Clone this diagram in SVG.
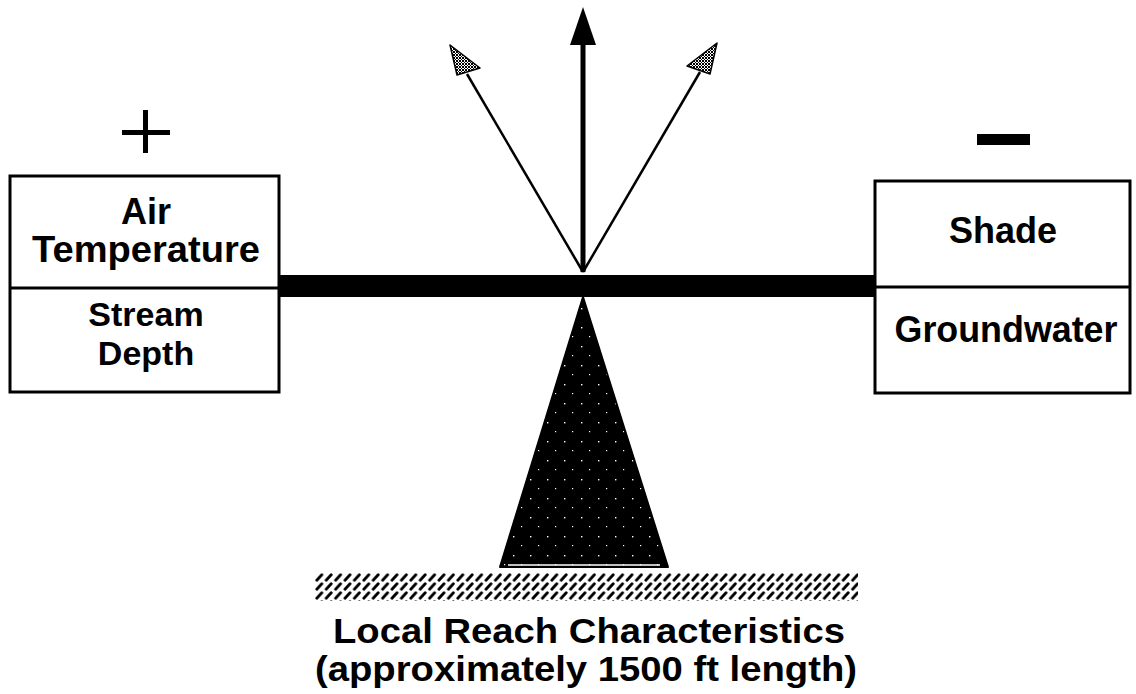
<svg xmlns="http://www.w3.org/2000/svg" width="1136" height="694" viewBox="0 0 1136 694">
<style>
.box{fill:#fff;stroke:#000;stroke-width:3}
.div{stroke:#000;stroke-width:3}
.t{font-family:"Liberation Sans",Arial,Helvetica,sans-serif;font-weight:bold;fill:#000;text-anchor:middle}
.bt{font-size:36px}
.bs{font-size:34px}
.lt{font-size:35px}
.thin{stroke:#000;stroke-width:2.5;fill:none}
.head{fill:url(#stip);stroke:#000;stroke-width:1.5;stroke-linejoin:round}
</style>
<defs>
<pattern id="hatch" patternUnits="userSpaceOnUse" x="315" y="573" width="9.4" height="9">
<line x1="1.8" y1="7.2" x2="6.8" y2="1.8" stroke="#000" stroke-width="2.8" stroke-linecap="round"/>
</pattern>
<pattern id="stip" patternUnits="userSpaceOnUse" width="3" height="3">
<rect width="3" height="3" fill="#fff"/>
<rect width="2" height="2" fill="#000"/>
<rect x="2" y="2" width="1" height="1" fill="#000"/>
</pattern>
<pattern id="dark" patternUnits="userSpaceOnUse" width="17" height="19">
<rect width="17" height="19" fill="#000"/>
<rect x="3" y="4" width="1.4" height="1.4" fill="#fff"/>
<rect x="11" y="13" width="1.2" height="1.2" fill="#fff"/>
</pattern>
</defs>
<rect width="1136" height="694" fill="#fff"/>

<g id="plus">
<rect x="122" y="130" width="48" height="5" fill="#000"/>
<rect x="143" y="110" width="5" height="43" fill="#000"/>
</g>
<g id="minus">
<rect x="977" y="134" width="53" height="11" fill="#000"/>
</g>

<g id="beam">
<rect x="279" y="275" width="596" height="22" fill="#000"/>
</g>

<g id="left-box">
<rect class="box" x="10" y="176" width="269" height="216"/>
<line class="div" x1="10" y1="288" x2="279" y2="288"/>
<text class="t bt" x="146" y="224">Air</text>
<text class="t bt" x="146" y="262" textLength="228" lengthAdjust="spacingAndGlyphs">Temperature</text>
<text class="t bs" x="146" y="326">Stream</text>
<text class="t bs" x="146" y="365">Depth</text>
</g>

<g id="right-box">
<rect class="box" x="875" y="181" width="255" height="212"/>
<line class="div" x1="875" y1="287" x2="1130" y2="287"/>
<text class="t bt" x="1003" y="243">Shade</text>
<text class="t bt" x="1006" y="342" textLength="223" lengthAdjust="spacingAndGlyphs">Groundwater</text>
</g>

<g id="fulcrum">
<polygon points="583,297 668,567 500,567" fill="url(#dark)" stroke="#000" stroke-width="2" stroke-linejoin="round"/>
<line x1="508" y1="565" x2="660" y2="565" stroke="#fff" stroke-width="1.5"/>
</g>

<g id="ground">
<rect x="315" y="573" width="543" height="28" fill="url(#hatch)"/>
</g>

<g id="connectors">
<line x1="583" y1="272" x2="583" y2="42" stroke="#000" stroke-width="5"/>
<polygon points="583,7 596,45 570,45" fill="#000"/>
<line class="thin" x1="583" y1="272" x2="467" y2="74"/>
<polygon class="head" points="450,45 480,68 457,75"/>
<line class="thin" x1="583" y1="272" x2="700" y2="72"/>
<polygon class="head" points="717,43 710,74 687,66"/>
</g>

<g id="label">
<text class="t lt" x="589" y="643" textLength="512" lengthAdjust="spacingAndGlyphs">Local Reach Characteristics</text>
<text class="t lt" x="586" y="681" textLength="542" lengthAdjust="spacingAndGlyphs">(approximately 1500 ft length)</text>
</g>
</svg>
